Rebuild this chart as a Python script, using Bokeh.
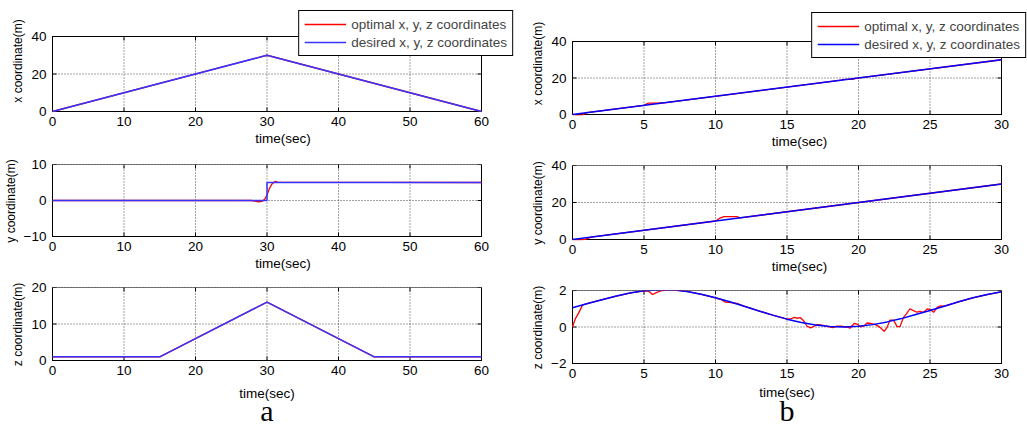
from bokeh.plotting import figure
from bokeh.layouts import row, column
from bokeh.models import Range1d, FixedTicker, Legend, LegendItem, Label
from bokeh.embed import file_html
from bokeh.resources import INLINE

# ---------------- data: panel (a) ----------------
a_time_ticks = [0, 10, 20, 30, 40, 50, 60]
a_x_ticks = [0, 20, 40]
a_y_ticks = [-10, 0, 10]
a_z_ticks = [0, 10, 20]

a_x_des_t = [0, 30, 60]
a_x_des = [0, 30, 0]
a_x_opt_t = [0, 30, 60]
a_x_opt = [0, 30, 0]

a_y_des_t = [0, 30, 30, 60]
a_y_des = [0, 0, 5, 5]
a_y_opt_t = [0, 27.8, 28.3, 28.8, 29.3, 29.7, 30.0, 30.3, 30.7, 31.1, 31.5, 60]
a_y_opt = [0, 0, -0.2, -0.35, -0.25, 0.4, 1.5, 3.2, 4.6, 5.3, 5.1, 5]

a_z_des_t = [0, 15, 30, 45, 60]
a_z_des = [1, 1, 16, 1, 1]
a_z_opt_t = [0, 15, 30, 45, 60]
a_z_opt = [1, 1, 16, 1, 1]

# ---------------- data: panel (b) ----------------
b_time_ticks = [0, 5, 10, 15, 20, 25, 30]
b_x_ticks = [0, 20, 40]
b_y_ticks = [0, 20, 40]
b_z_ticks = [-2, 0, 2]

b_x_des_t = [0, 30]
b_x_des = [0, 30]
b_x_opt_t = [0, 0.3, 0.7, 1.0, 5.0, 5.3, 6.0, 6.4, 18.8, 19.0, 19.6, 19.8, 30]
b_x_opt = [0, -0.3, -0.2, 1.0, 5.0, 6.2, 6.3, 6.4, 18.8, 19.3, 19.3, 19.8, 30]

b_y_des_t = [0, 30]
b_y_des = [0, 30]
b_y_opt_t = [0, 0.4, 0.9, 1.3, 10.0, 10.3, 10.6, 11.5, 11.7, 30]
b_y_opt = [0, -0.2, 0.1, 1.3, 10.0, 11.5, 12.4, 12.4, 11.7, 30]

b_z_des_t = [0, 1, 2, 3, 4, 5, 6, 7, 8, 9, 10, 11, 12, 13, 14, 15, 16, 17, 18, 19,
             20, 21, 22, 23, 24, 25, 26, 27, 28, 29, 30]
b_z_des = [1.06, 1.27, 1.48, 1.68, 1.86, 1.99, 2.03, 2.04, 1.95, 1.79, 1.6, 1.38, 1.14,
           0.89, 0.65, 0.43, 0.25, 0.11, 0.03, 0.0, 0.04, 0.13, 0.28, 0.46, 0.68, 0.9,
           1.14, 1.38, 1.6, 1.78, 1.93]
b_z_opt_t = [0, 0.2, 0.45, 0.7, 1.0, 2, 3, 4, 5, 5.3, 5.6, 5.9, 6.25, 7, 8, 9, 10, 10.4,
             10.7, 11.1, 11.5, 12, 13, 14, 15, 15.25, 15.5, 15.7, 15.95, 16.2, 16.4,
             16.65, 16.9, 17.1, 17.35, 17.6, 17.8, 18.2, 18.5, 18.85, 19.2, 19.4, 19.7,
             19.9, 20.15, 20.4, 20.6, 20.85, 21.2, 21.55, 21.8, 22.0, 22.2, 22.45, 22.7,
             22.9, 23.15, 23.35, 23.6, 23.85, 24.1, 24.3, 24.55, 24.8, 25.05, 25.25, 25.5,
             25.7, 26, 27, 28, 29, 30]
b_z_opt = [0.0, 0.45, 0.8, 1.2, 1.28, 1.48, 1.68, 1.86, 1.98, 1.97, 1.78, 1.9, 2.0, 2.04,
           1.95, 1.79, 1.6, 1.5, 1.36, 1.34, 1.3, 1.14, 0.89, 0.65, 0.43, 0.44, 0.53, 0.48,
           0.51, 0.3, 0.04, -0.05, 0.04, 0.13, 0.11, 0.07, 0.04, -0.04, 0.05, 0.04, 0.0,
           -0.07, 0.2, 0.16, 0.0, 0.07, 0.22, 0.2, 0.13, -0.05, -0.24, -0.02, 0.38, 0.38,
           0.02, 0.02, 0.53, 0.72, 1.0, 0.9, 0.81, 0.85, 0.8, 0.99, 0.95, 0.8, 1.08, 1.15,
           1.14, 1.38, 1.6, 1.78, 1.93]

legend_labels = ["optimal x, y, z coordinates", "desired x, y, z coordinates"]
x_label = "time(sec)"
captions = ["a", "b"]

FONT = "Liberation Sans"
GRID_COLOR = "#444444"
GRID_DASH = "1 2"
PAD = 1      # px between frame edge and axes box (left / bottom)
TICK = 4     # inward tick length, px


def panel(w, h, bl, br, bt, bb, extra_right, extra_top, tticks, yticks, ylabel,
          t_opt, v_opt, t_des, v_des, blue, legend=False, xlabel=True):
    """The plot frame is a little larger than the MATLAB-style axes box, so the legend
    can overlap the box edge; the box, grid and box ticks are drawn in data space."""
    t0, t1 = tticks[0], tticks[-1]
    y0, y1 = yticks[0], yticks[-1]
    box_w = w - bl - br - extra_right - PAD
    box_h = h - bt - bb - extra_top - PAD
    dx = (t1 - t0) / box_w
    dy = (y1 - y0) / box_h
    p = figure(width=w, height=h, output_backend="svg", toolbar_location=None,
               x_range=Range1d(t0 - PAD * dx, t1 + extra_right * dx),
               y_range=Range1d(y0 - PAD * dy, y1 + extra_top * dy),
               min_border_left=bl, min_border_right=br, min_border_top=bt, min_border_bottom=bb,
               x_axis_label=(x_label if xlabel else None), y_axis_label=ylabel)
    p.outline_line_color = None
    p.background_fill_color = "white"
    p.border_fill_color = "white"
    p.grid.visible = False
    p.xaxis.ticker = FixedTicker(ticks=tticks)
    p.yaxis.ticker = FixedTicker(ticks=yticks)
    for ax in (p.xaxis[0], p.yaxis[0]):
        ax.axis_line_color = None
        ax.major_tick_in = 0
        ax.major_tick_out = 0
        ax.minor_tick_line_color = None
        ax.major_label_text_font = FONT
        ax.major_label_text_font_size = "13.5px"
        ax.major_label_text_color = "black"
        ax.axis_label_text_font = FONT
        ax.axis_label_text_font_style = "normal"
        ax.axis_label_text_color = "black"
    p.xaxis.major_label_standoff = 4
    p.xaxis.axis_label_standoff = 2
    p.xaxis.axis_label_text_font_size = "13.5px"
    p.yaxis.major_label_standoff = 5
    p.yaxis.axis_label_standoff = 3
    p.yaxis.axis_label_text_font_size = "12px"

    n_t, n_y = len(tticks), len(yticks)
    # dotted grid
    p.segment(x0=tticks, y0=[y0] * n_t, x1=tticks, y1=[y1] * n_t,
              line_color=GRID_COLOR, line_dash=GRID_DASH, line_width=1)
    p.segment(x0=[t0] * n_y, y0=yticks, x1=[t1] * n_y, y1=yticks,
              line_color=GRID_COLOR, line_dash=GRID_DASH, line_width=1)
    # inward ticks on all four sides of the box
    p.segment(x0=tticks, y0=[y0] * n_t, x1=tticks, y1=[y0 + TICK * dy] * n_t,
              line_color="black", line_width=1)
    p.segment(x0=tticks, y0=[y1] * n_t, x1=tticks, y1=[y1 - TICK * dy] * n_t,
              line_color="black", line_width=1)
    p.segment(x0=[t0] * n_y, y0=yticks, x1=[t0 + TICK * dx] * n_y, y1=yticks,
              line_color="black", line_width=1)
    p.segment(x0=[t1] * n_y, y0=yticks, x1=[t1 - TICK * dx] * n_y, y1=yticks,
              line_color="black", line_width=1)
    # axes box
    p.quad(left=[t0], right=[t1], bottom=[y0], top=[y1], fill_color=None,
           line_color="black", line_width=1)
    r_opt = p.line(t_opt, v_opt, line_color="#ff0000", line_width=1.3)
    r_des = p.line(t_des, v_des, line_color=blue, line_width=1.5)
    if legend:
        lg = Legend(items=[LegendItem(label=legend_labels[0], renderers=[r_opt]),
                           LegendItem(label=legend_labels[1], renderers=[r_des])],
                    location="top_right", orientation="vertical",
                    border_line_color="black", border_line_width=1, border_line_alpha=1,
                    background_fill_color="white", background_fill_alpha=1,
                    label_text_font=FONT, label_text_font_size="13.5px",
                    glyph_width=42, glyph_height=16, label_height=16, label_standoff=5,
                    padding=5, spacing=2, margin=1)
        p.add_layout(lg)
    return p


def caption_fig(w, h, bl, br, extra_right, tticks, txt, size, label_mid):
    """Strip under a bottom panel: the shared x-axis title and the sub-figure letter."""
    t0, t1 = tticks[0], tticks[-1]
    box_w = w - bl - br - extra_right - PAD
    dx = (t1 - t0) / box_w
    c = figure(width=w, height=h, output_backend="svg", toolbar_location=None,
               x_axis_type=None, y_axis_type=None,
               min_border_left=bl, min_border_right=br, min_border_top=0, min_border_bottom=0,
               x_range=Range1d(t0 - PAD * dx, t1 + extra_right * dx), y_range=Range1d(0, 1))
    c.outline_line_color = None
    c.grid.visible = False
    c.background_fill_color = "white"
    c.border_fill_color = "white"
    mid = (t0 + t1) / 2
    c.add_layout(Label(text=x_label, x=mid, y=label_mid, x_units="data", y_units="screen",
                       text_align="center", text_baseline="middle",
                       text_font=FONT, text_font_size="13.5px", text_color="black"))
    c.add_layout(Label(text=txt, x=mid, y=0, x_units="data", y_units="screen",
                       text_align="center", text_baseline="bottom",
                       text_font="Liberation Serif", text_font_size=size,
                       text_color="black"))
    return c


BLUE_A = "#3535ff"
BLUE_B = "#0000ff"

L1 = panel(520, 149, 51, 6, 9, 37, 33, 27, a_time_ticks, a_x_ticks, "x coordinate(m)",
           a_x_opt_t, a_x_opt, a_x_des_t, a_x_des, BLUE_A, legend=True)
L2 = panel(520, 125, 51, 6, 15, 37, 33, 0, a_time_ticks, a_y_ticks, "y coordinate(m)",
           a_y_opt_t, a_y_opt, a_y_des_t, a_y_des, BLUE_A)
L3 = panel(520, 106, 51, 6, 13, 19, 33, 0, a_time_ticks, a_z_ticks, "z coordinate(m)",
           a_z_opt_t, a_z_opt, a_z_des_t, a_z_des, BLUE_A, xlabel=False)
LC = caption_fig(520, 46, 51, 6, 33, a_time_ticks, captions[0], "30px", 33)

R1 = panel(507, 152, 51, 0, 11, 37, 26, 30, b_time_ticks, b_x_ticks, "x coordinate(m)",
           b_x_opt_t, b_x_opt, b_x_des_t, b_x_des, BLUE_B, legend=True)
R2 = panel(507, 125, 51, 0, 13, 37, 26, 0, b_time_ticks, b_y_ticks, "y coordinate(m)",
           b_y_opt_t, b_y_opt, b_y_des_t, b_y_des, BLUE_B)
R3 = panel(507, 106, 51, 0, 13, 19, 26, 0, b_time_ticks, b_z_ticks, "z coordinate(m)",
           b_z_opt_t, b_z_opt, b_z_des_t, b_z_des, BLUE_B, xlabel=False)
RC = caption_fig(507, 43, 51, 0, 26, b_time_ticks, captions[1], "30px", 34)

layout = row(column(L1, L2, L3, LC, spacing=0), column(R1, R2, R3, RC, spacing=0), spacing=0)

with open("out.html", "w") as f:
    f.write(file_html(layout, INLINE))
